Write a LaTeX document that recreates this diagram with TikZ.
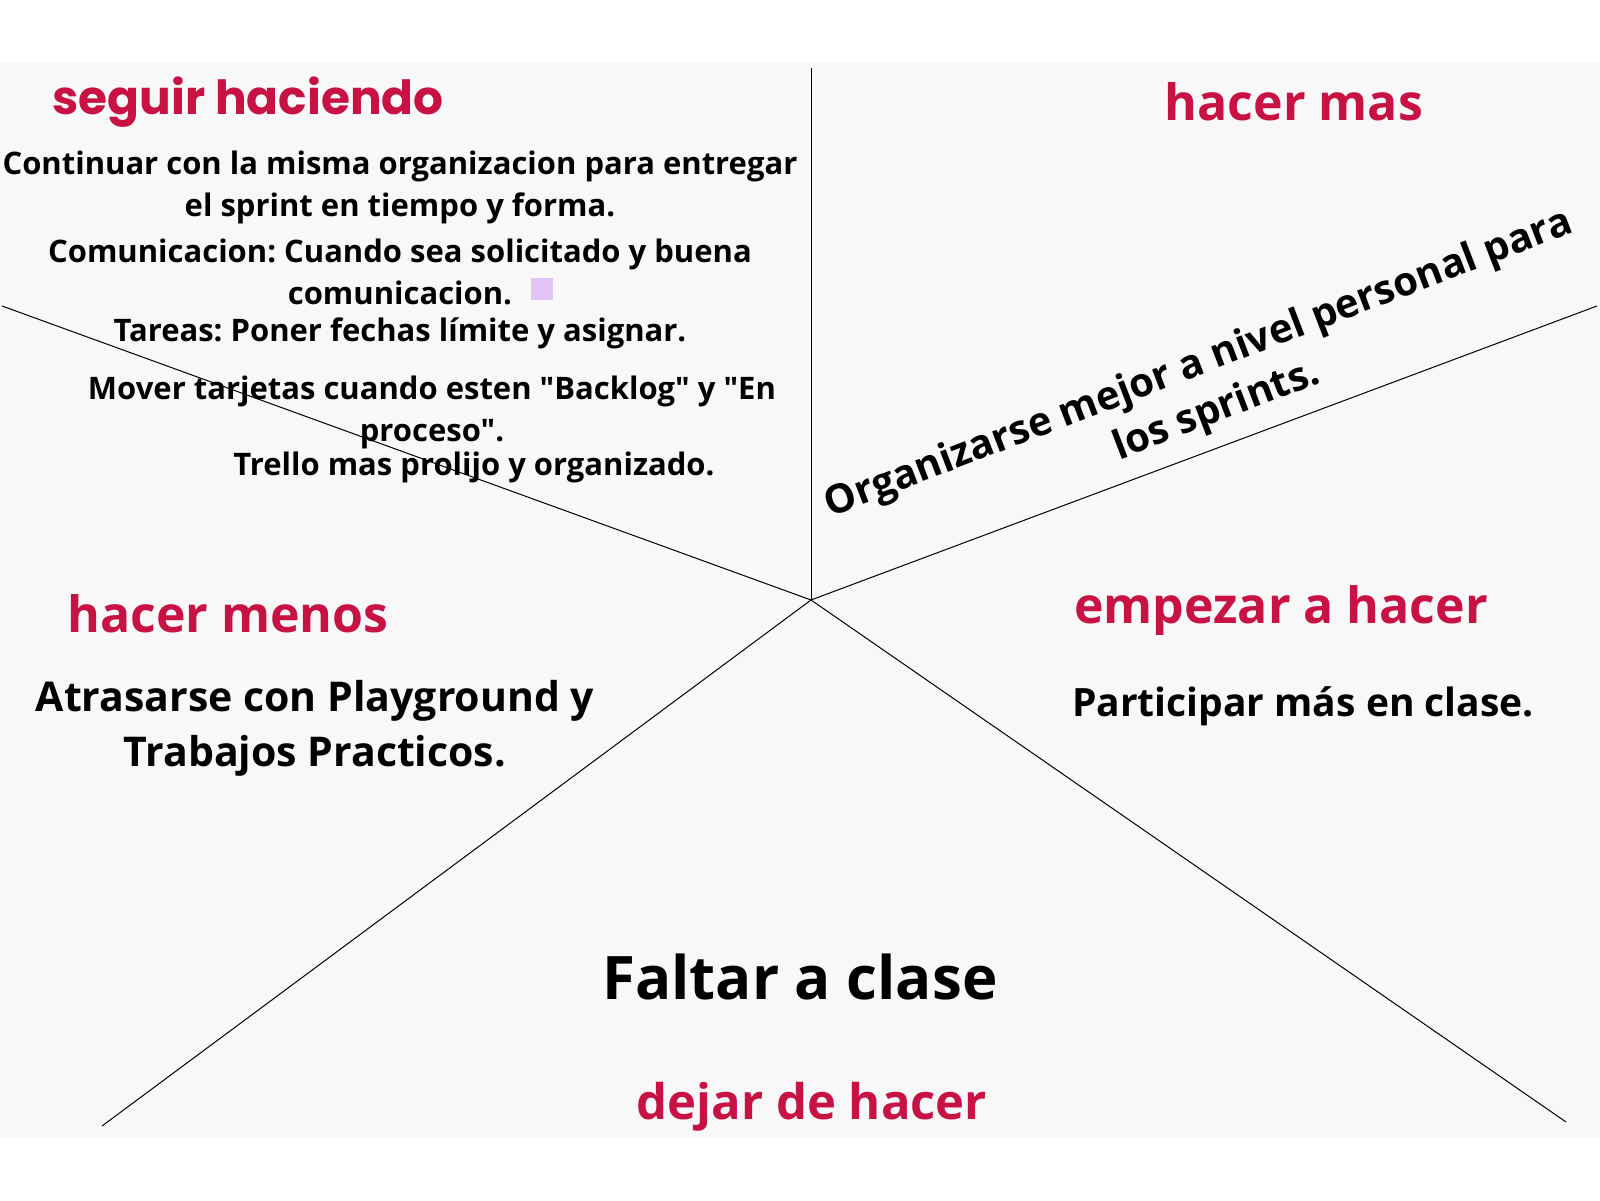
\documentclass[tikz,border=0pt]{standalone}
\usepackage{fontspec}
\usepackage{xcolor}
\usepackage{tikz}
\setmainfont{Open Sans}[Ligatures=TeXOff]
\newfontfamily\headfont{Poppins}
\definecolor{rojo}{RGB}{200,18,68}
\definecolor{fondo}{RGB}{248,248,248}
\definecolor{lila}{RGB}{224,196,248}
\frenchspacing

\begin{document}
\begin{tikzpicture}[x=1pt,y=1pt,
	titulo/.style={inner sep=0pt,text=rojo,font=\bfseries\fontsize{50}{56}\selectfont},
	texto/.style={inner sep=0pt,align=center,font=\bfseries\fontsize{31}{42}\selectfont},
	raya/.style={draw=black,line width=1pt}]
	\useasboundingbox (0,0) rectangle (1600,1200);
	\fill[fondo] (0,62) rectangle (1600,1137);

	% centro y extremos de las rayas
	\coordinate (C) at (811,600);
	\coordinate (arriba) at (811,1132);
	\coordinate (izqArriba) at (2,894);
	\coordinate (derArriba) at (1597,894);
	\coordinate (izqAbajo) at (102,74);
	\coordinate (derAbajo) at (1566,78);
	\draw[raya] (C) -- (arriba);
	\draw[raya] (C) -- (izqArriba);
	\draw[raya] (C) -- (derArriba);
	\draw[raya] (C) -- (izqAbajo);
	\draw[raya] (C) -- (derAbajo);

	% titulos
	\node[titulo,font=\headfont\bfseries\fontsize{47}{52}\selectfont] (seguir) at (248,1098) {seguir haciendo};
	\node[titulo] (mas) at (1294,1098) {hacer mas};
	\node[titulo] (menos) at (228,586) {hacer menos};
	\node[titulo] (empezar) at (1281,589) {empezar a hacer};
	\node[titulo,font=\bfseries\fontsize{49}{54}\selectfont] (dejar) at (812,93) {dejar de hacer};

	% seguir haciendo
	\node[texto] (continuar) at (400,1013) {Continuar con la misma organizacion para entregar\\el sprint en tiempo y forma.};
	\node[texto] (comunicacion) at (400,928) {Comunicacion: Cuando sea solicitado y buena\\comunicacion.};
	\node[fill=lila,minimum size=22pt,inner sep=0pt] (cuadro) at (542,911) {};
	\node[texto] (tareas) at (400,867) {Tareas: Poner fechas límite y asignar.};
	\node[texto] (mover) at (432,788) {Mover tarjetas cuando esten "Backlog" y "En\\proceso".};
	\node[texto] (trello) at (474,733) {Trello mas prolijo y organizado.};

	% hacer mas
	\node[texto,rotate=21,font=\bfseries\fontsize{40}{50}\selectfont] (organizarse) at (1208,812) {Organizarse mejor a nivel personal para\\los sprints.};

	% hacer menos
	\node[texto,font=\bfseries\fontsize{41}{55}\selectfont] (atrasarse) at (315,472) {Atrasarse con Playground y\\Trabajos Practicos.};

	% empezar a hacer
	\node[texto,font=\bfseries\fontsize{39}{46}\selectfont] (participar) at (1303,494) {Participar más en clase.};

	% dejar de hacer
	\node[texto,font=\bfseries\fontsize{60}{66}\selectfont] (faltar) at (800,223) {Faltar a clase};
\end{tikzpicture}
\end{document}
